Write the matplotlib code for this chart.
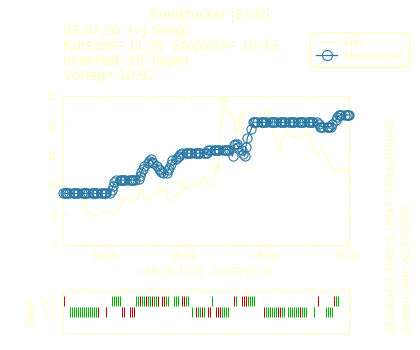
import matplotlib
matplotlib.use("Agg")
import matplotlib.pyplot as plt
import pandas as pd

plt.rcParams['font.family'] = ['Liberation Sans', 'DejaVu Sans']

# ---------------- data ----------------
title = "Suedzucker [EUR]"
info_lines = ["03.07.26: (+) Steigt",
              "Kursziel= 11.20  Stoploss= 10.43",
              "innerhalb 10-Tagen",
              "Vortag= 10.82"]
xlabel_text = "\u00bbMo,01.12.25 - Do,02.07.26"
right_text1 = "Einsatz=0.1, Rate=1, Hebel=3 (BenchTyp=0)"
right_text2 = "System-Code: ACXY0FWV"
series_names = ["Kurs", "Musterdepot"]

dates = pd.bdate_range("2025-12-01", "2026-07-02")

kurs = [9.72, 9.76, 9.74, 9.78, 9.75,
        9.74, 9.77, 9.73, 9.70, 9.72,
        9.65, 9.60, 9.12, 9.10, 9.12,
        9.00, 8.99, 9.00, 9.02, 9.02,
        9.07, 9.10, 9.15, 9.17, 9.12,
        9.07, 9.03, 9.05, 9.10, 9.13,
        9.20, 9.30, 9.40, 9.55, 9.62,
        9.55, 9.50, 9.48, 9.45, 9.44,
        9.61, 9.75, 9.90, 9.75, 9.62,
        9.50, 9.55, 9.62, 9.65, 9.68,
        9.80, 9.96, 9.85, 9.70, 9.95,
        9.80, 9.45, 9.48, 9.55, 9.60,
        9.73, 9.70, 9.68, 9.85, 10.12,
        9.90, 9.84, 9.92, 10.01, 10.05,
        10.05, 10.01, 10.03, 10.10, 10.18,
        10.30, 10.20, 10.07, 9.98, 9.90,
        9.92, 10.57, 10.68, 10.50, 11.20,
        12.93, 12.75, 12.55, 12.45, 12.40,
        12.33, 12.25, 11.80, 11.90, 12.00,
        12.53, 11.91, 11.75, 11.60, 11.55,
        11.50, 11.69, 11.80, 11.90, 12.03,
        12.14, 12.25, 12.36, 12.45, 12.53,
        12.53, 12.03, 11.80, 11.69, 11.40,
        11.13, 11.36, 11.55, 11.69, 11.85,
        11.85, 11.80, 11.70, 11.58, 11.65,
        11.60, 11.58, 11.60, 11.63, 11.65,
        11.80, 11.60, 11.47, 11.35, 11.24,
        10.96, 11.05, 11.13, 11.20, 11.24,
        10.96, 10.85, 10.74, 10.60, 10.52,
        10.46, 10.50, 10.57, 10.55, 10.52,
        10.48, 10.46, 10.55, 10.68]

depot = [9.73, 9.73, 9.73, 9.73, 9.73,
         9.73, 9.73, 9.73, 9.73, 9.73,
         9.73, 9.73, 9.73, 9.73, 9.73,
         9.73, 9.73, 9.73, 9.73, 9.73,
         9.73, 9.73, 9.73, 9.73, 9.73,
         9.73, 9.85, 9.98, 10.10, 10.18,
         10.18, 10.18, 10.18, 10.18, 10.18,
         10.18, 10.18, 10.18, 10.18, 10.18,
         10.20, 10.30, 10.45, 10.55, 10.65,
         10.75, 10.82, 10.87, 10.80, 10.75,
         10.65, 10.55, 10.50, 10.45, 10.42,
         10.42, 10.50, 10.60, 10.72, 10.85,
         10.90, 10.95, 11.00, 11.05, 11.08,
         11.08, 11.08, 11.08, 11.08, 11.08,
         11.08, 11.08, 11.08, 11.08, 11.08,
         11.08, 11.08, 11.08, 11.20, 11.20,
         11.20, 11.20, 11.20, 11.20, 11.20,
         11.20, 11.20, 11.20, 11.20, 11.20,
         10.98, 11.35, 11.40, 11.38, 11.30,
         11.20, 11.05, 10.98, 11.30, 11.60,
         11.90, 12.12, 12.12, 12.12, 12.12,
         12.12, 12.12, 12.12, 12.12, 12.12,
         12.12, 12.12, 12.12, 12.12, 12.12,
         12.12, 12.12, 12.12, 12.12, 12.12,
         12.12, 12.12, 12.12, 12.12, 12.12,
         12.12, 12.12, 12.12, 12.12, 12.12,
         12.12, 12.12, 12.12, 12.12, 12.12,
         12.12, 12.05, 11.97, 11.97, 11.97,
         11.97, 11.97, 11.97, 11.97, 12.05,
         12.20, 12.30, 12.36, 12.36, 12.36,
         12.36, 12.36, 12.36, 12.36]

month_ticks = pd.to_datetime(["2026-01-01", "2026-02-01", "2026-03-01", "2026-04-01",
                              "2026-05-01", "2026-06-01", "2026-07-01"])
month_labels = ["01/26", "", "03/26", "", "05/26", "", "07/26"]
y_ticks = [8, 9, 10, 11, 12, 13]

# signal panel: position index, colour code ('r' = red, 'g' = green)
plus_idx = [0, 24, 25, 26, 27, 28, 36, 37, 38, 39, 40, 41, 42, 43, 44, 45, 46, 47,
            49, 50, 51, 52, 55, 56, 57, 59, 60, 61, 62, 74, 85, 86,
            89, 90, 91, 92, 93, 94, 95, 127, 135, 136, 137]
plus_col = ['r', 'g', 'g', 'g', 'g', 'g', 'g', 'g', 'r', 'g', 'g', 'r', 'g', 'g', 'r', 'g', 'g', 'r',
            'r', 'r', 'g', 'g', 'g', 'g', 'g', 'r', 'r', 'g', 'g', 'g', 'r', 'g',
            'r', 'r', 'r', 'g', 'g', 'g', 'g', 'r', 'r', 'g', 'g']
minus_idx = [3, 4, 5, 6, 7, 8, 9, 10, 11, 12, 13, 14, 15, 16, 17, 21, 29, 30, 33, 34, 35,
             64, 66, 67, 68, 69, 70, 72, 73, 76, 77, 78, 79, 80, 81, 82,
             100, 101, 102, 103, 104, 105, 106, 107, 108, 109, 110,
             112, 113, 114, 115, 116, 117, 118, 119, 120, 121, 125, 131, 132, 133, 134]
minus_col = ['g', 'g', 'g', 'g', 'g', 'g', 'g', 'g', 'g', 'g', 'g', 'g', 'g', 'g', 'r', 'r', 'r', 'r', 'r', 'r', 'r',
             'g', 'r', 'g', 'g', 'r', 'g', 'r', 'r', 'r', 'r', 'r', 'g', 'g', 'g', 'g',
             'r', 'g', 'g', 'g', 'g', 'g', 'g', 'r', 'r', 'g', 'g',
             'g', 'g', 'g', 'g', 'g', 'g', 'r', 'g', 'g', 'g', 'g', 'g', 'g', 'g', 'g']
signal_levels = [1, 0]
signal_labels = ["(+)", "(-)"]
signal_xticks = [11, 29.5, 48.5, 67, 85, 104.5, 122.5, 142]

# ---------------- style ----------------
YEL = '#FFFFBF'
BLUE = '#2B78A4'
RED = '#C00000'
GREEN = '#00B400'
colmap = {'r': RED, 'g': GREEN}

W, H = 420, 350
fig = plt.figure(figsize=(W / 100, H / 100), dpi=100)
fig.patch.set_facecolor('white')


def fx(px):
    return px / W


def fy(py):
    return 1 - py / H


# ---------------- main axes ----------------
ax = fig.add_axes([fx(63.4), fy(245), (349.4 - 63.4) / W, (245 - 96) / H])
ax.plot(dates, kurs, color=YEL, lw=0.8, label=series_names[0])
ax.plot(dates, depot, color=BLUE, lw=0.9, marker='o', ms=6.6, mfc='none',
        mew=0.8, mec=BLUE, clip_on=False, label=series_names[1], zorder=3)
ax.set_xlim(pd.Timestamp("2025-12-01"), pd.Timestamp("2026-07-02"))
ax.set_ylim(8, 13)
ax.set_yticks(y_ticks)
ax.set_xticks(month_ticks)
ax.set_xticklabels(month_labels)
ax.tick_params(direction='in', length=3, width=0.7, color=YEL, labelcolor=YEL,
               labelsize=7.3, top=True, right=True, pad=4.5)
for s in ax.spines.values():
    s.set_color(YEL)
    s.set_linewidth(0.8)

leg = ax.legend(loc='upper left', bbox_to_anchor=(fx(310), fy(32)),
                bbox_transform=fig.transFigure, borderaxespad=0, fancybox=False,
                edgecolor=YEL, fontsize=7.7, labelcolor=YEL, handlelength=2.0,
                handletextpad=0.55, borderpad=0.55, labelspacing=0.3,
                markerscale=1.1, framealpha=1)
leg.get_frame().set_linewidth(1.0)

# ---------------- texts ----------------
fig.text(fx(209), fy(19.5), title, ha='center', va='baseline', color=YEL, fontsize=10.5)
for i, line in enumerate(info_lines):
    fig.text(fx(63), fy(35 + 15 * i), line, ha='left', va='baseline', color=YEL, fontsize=10.5)
fig.text(fx(206), fy(271.7), xlabel_text, ha='center', va='center', color=YEL, fontsize=7.7)
fig.text(fx(391), fy(332.5), right_text1, rotation=90, ha='center', va='bottom', color=YEL, fontsize=7.7)
fig.text(fx(407), fy(332.5), right_text2, rotation=90, ha='center', va='bottom', color=YEL, fontsize=7.7)
fig.text(fx(30), fy(313), "Signal", rotation=90, ha='center', va='center', color=YEL, fontsize=7.7)

# ---------------- signal axes ----------------
ax2 = fig.add_axes([fx(63.3), fy(333.3), 286 / W, (333.3 - 291) / H])
for idx_list, col_list, lev in [(plus_idx, plus_col, signal_levels[0]),
                                (minus_idx, minus_col, signal_levels[1])]:
    for code in ['g', 'r']:
        xs = [i for i, c in zip(idx_list, col_list) if c == code]
        ax2.vlines(xs, lev - 0.48, lev + 0.48, colors=colmap[code], lw=0.75)
ax2.set_xlim(-0.5, 142.5)
ax2.set_ylim(-1.91, 1.91)
ax2.set_yticks(signal_levels)
ax2.set_yticklabels(signal_labels)
ax2.set_xticks(signal_xticks)
ax2.tick_params(direction='out', length=3, width=0.7, color=YEL, labelcolor=YEL,
                labelsize=7.7, top=True, right=True, labelbottom=False, pad=3.5)
for s in ax2.spines.values():
    s.set_color(YEL)
    s.set_linewidth(0.8)

fig.savefig("out.png", dpi=100, facecolor='white')
